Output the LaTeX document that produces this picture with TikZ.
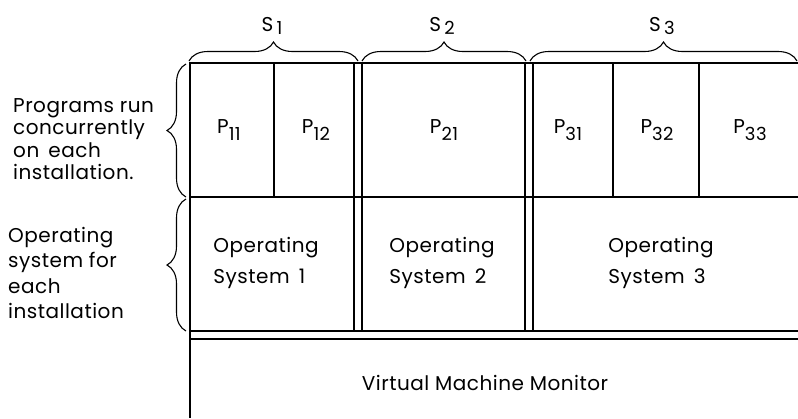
\documentclass[tikz,border=0pt]{standalone}
\usepackage{fontspec}
\setmainfont{Poppins}[LetterSpace=2.5]
\usetikzlibrary{positioning,decorations.pathreplacing}

\newcommand{\prg}[1]{P\raisebox{-0.6ex}{\fontsize{18}{18}\selectfont #1}}
\newcommand{\sys}[1]{S\,\raisebox{-0.35ex}{\fontsize{18}{18}\selectfont #1}}

\begin{document}
\begin{tikzpicture}[x=1pt,y=-1pt,
  txt/.style={font=\fontsize{20}{22.5}\selectfont,inner sep=0pt},
  frame/.style={line width=1.2pt},
  brc/.style={decorate,decoration={brace,amplitude=19pt},line width=1.1pt}]
  \useasboundingbox (0,0) rectangle (798,418);

  % frame
  \draw[frame] (798,63) -- (190,63) -- (190,418);
  \draw[frame] (190,197) -- (798,197);
  \draw[frame] (190,331) -- (798,331);
  \draw[frame] (190,339) -- (798,339);
  \draw[frame] (274,63) -- (274,197);
  \draw[frame] (613,63) -- (613,197);
  \draw[frame] (699,63) -- (699,197);
  \draw[frame] (354,63) -- (354,331);
  \draw[frame] (362,63) -- (362,331);
  \draw[frame] (525,63) -- (525,331);
  \draw[frame] (533,63) -- (533,331);

  % braces
  \draw[brc] (189,61) -- (358,61);
  \draw[brc] (362,61) -- (526,61);
  \draw[brc] (530,61) -- (797,61);
  \draw[brc] (186,197) -- (186,64);
  \draw[brc] (186,331) -- (186,199);

  \node[txt] (s1) at (272,26) {\sys{1}};
  \node[txt] (s2) at (442,26) {\sys{2}};
  \node[txt] (s3) at (662,26) {\sys{3}};

  \node[txt] (p11) at (229,130) {\prg{11}};
  \node[txt] (p12) at (316,130) {\prg{12}};
  \node[txt] (p21) at (444,130) {\prg{21}};
  \node[txt] (p31) at (568,130) {\prg{31}};
  \node[txt] (p32) at (657,130) {\prg{32}};
  \node[txt] (p33) at (750,130) {\prg{33}};

  \node[txt,align=left] (os1) at (266,263) {Operating\\[8pt]System \,1};
  \node[txt,align=left] (os2) at (442,263) {Operating\\[8pt]System \,2};
  \node[txt,align=left] (os3) at (661,263) {Operating\\[8pt]System \,3};

  \node[txt] (vmm) at (485,383) {Virtual Machine Monitor};

  \node[txt,align=left,anchor=west] (progs) at (13,139) {Programs run\\concurrently\\on \,each\\installation.};
  \node[txt,align=left,anchor=west] (oslbl) at (8,273) {Operating\\[3pt]system for\\[3pt]each\\[3pt]installation};
\end{tikzpicture}
\end{document}
